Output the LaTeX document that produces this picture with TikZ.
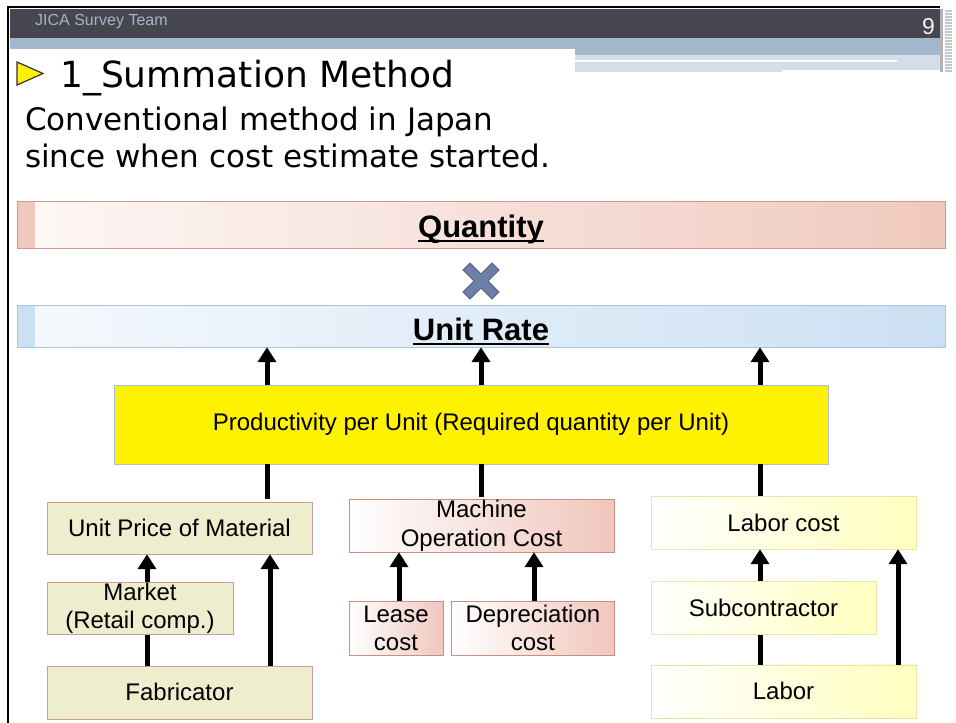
\documentclass[tikz,border=0pt]{standalone}
\usepackage{fontspec}
\setmainfont{Liberation Sans}
\newfontfamily\slidefont{DejaVu Sans}
\usetikzlibrary{arrows.meta, positioning, calc}
\definecolor{headdark}{HTML}{46464F}
\definecolor{headtext}{HTML}{A3B3CA}
\definecolor{bandblue}{HTML}{A3B8CD}
\definecolor{bandlight}{HTML}{D3DEE8}
\definecolor{qtyleft}{HTML}{FDF8F6}
\definecolor{qtyright}{HTML}{F0C9BE}
\definecolor{qtyline}{HTML}{D49A88}
\definecolor{rateleft}{HTML}{F5F9FD}
\definecolor{rateright}{HTML}{CCE0F3}
\definecolor{rateline}{HTML}{A9C5E0}
\definecolor{timesfill}{HTML}{6E7FA6}
\definecolor{timesline}{HTML}{505F86}
\definecolor{prodline}{HTML}{A9C1D9}
\definecolor{matfill}{HTML}{EEEECE}
\definecolor{matline}{HTML}{C9A096}
\definecolor{machfill}{HTML}{F0C6BC}
\definecolor{machline}{HTML}{C8907F}
\definecolor{laborfill}{HTML}{FFFFBF}
\definecolor{laborline}{HTML}{E6E6A8}
\tikzset{
    box/.style={rectangle, draw, minimum height=53pt, inner sep=0pt, text centered, align=center, font=\fontsize{24}{28}\selectfont},
    matbox/.style={box, fill=matfill, draw=matline},
    machbox/.style={box, left color=white, right color=machfill, draw=machline},
    laborbox/.style={box, left color=white, right color=laborfill, draw=laborline},
    bar/.style={rectangle, draw, minimum width=928pt, inner sep=0pt},
    bartext/.style={anchor=base, inner sep=0pt, font=\bfseries\fontsize{31}{34}\selectfont},
    uparrow/.style={line width=5pt, -{Triangle[width=18pt,length=15pt]}},
    link/.style={line width=5pt}
}

\begin{document}
\begin{tikzpicture}[x=1pt, y=-1pt]
    \useasboundingbox (0,0) rectangle (956,723);
    \fill[white] (0,0) rectangle (956,723);

    % slide header
    \fill[headdark] (10,9) rectangle (940,38);
    \fill[bandblue] (10,38) rectangle (940,49);
    \fill[bandblue] (575,49) rectangle (940,55);
    \fill[bandlight] (575,55) rectangle (940,72);
    \fill[white] (575,60) rectangle (897,62);
    \fill[white] (782,70) rectangle (940,73);
    \fill[gray!60] (940,9) rectangle (943,72);
    \foreach \yy in {10,13,...,70}
        \fill[gray!45] (945,\yy) rectangle (952,\yy+1.5);
    \draw[line width=2.5pt] (8,723) -- (8,7) -- (940,7);
    \node (team) [anchor=west, inner sep=0pt, text=headtext, font=\fontsize{16}{18}\selectfont] at (35,22) {JICA Survey Team};
    \node (page) [anchor=east, inner sep=0pt, text=white!90!gray, font=\fontsize{23}{25}\selectfont] at (935,27) {9};

    % title
    \filldraw[fill=yellow, draw=black!80, line width=1.2pt] (17,62) -- (43,73.5) -- (17,85) -- cycle;
    \node (title) [anchor=base west, inner sep=0pt, font=\slidefont\fontsize{36}{40}\selectfont] at (60,87) {1\_Summation Method};
    \node (sub1) [anchor=base west, inner sep=0pt, font=\slidefont\fontsize{31}{36}\selectfont] at (25,130) {Conventional method in Japan};
    \node (sub2) [anchor=base west, inner sep=0pt, font=\slidefont\fontsize{31}{36}\selectfont] at (25,167) {since when cost estimate started.};

    % quantity x unit rate
    \node (qty) [bar, left color=qtyleft, right color=qtyright, draw=qtyline, minimum height=47pt] at (481,224.5) {};
    \fill[qtyright] (qty.north west) rectangle ([xshift=18pt]qty.south west);
    \draw[qtyline] (qty.north west) rectangle (qty.south east);
    \node (qtytext) [bartext] at (481,237) {Quantity};
    \draw[line width=2.2pt] ([yshift=-4pt]qtytext.base west) -- ([yshift=-4pt]qtytext.base east);

    \coordinate (times) at (481,281);
    \filldraw[shift={(times)}, fill=timesfill, draw=timesline, line width=1pt]
        (0,-7) -- (11,-18) -- (18,-11) -- (7,0) -- (18,11) -- (11,18) -- (0,7)
        -- (-11,18) -- (-18,11) -- (-7,0) -- (-18,-11) -- (-11,-18) -- cycle;

    \node (rate) [bar, left color=rateleft, right color=rateright, draw=rateline, minimum height=42pt] at (481,326) {};
    \fill[rateright] (rate.north west) rectangle ([xshift=18pt]rate.south west);
    \draw[rateline] (rate.north west) rectangle (rate.south east);
    \node (ratetext) [bartext] at (481,340) {Unit Rate};
    \draw[line width=2.2pt] ([yshift=-4pt]ratetext.base west) -- ([yshift=-4pt]ratetext.base east);

    % productivity
    \node (prod) [rectangle, draw=prodline, fill=yellow, minimum width=714pt, minimum height=79pt, font=\fontsize{24}{28}\selectfont] at (471,424.5) {Productivity per Unit (Required quantity per Unit)};

    % cost items
    \node (upm) [matbox, minimum width=265pt, minimum height=52pt] at (179.5,528) {Unit Price of Material};
    \node (market) [matbox, minimum width=186pt, minimum height=52pt, below=28pt of upm.south west, anchor=north west] {Market\\(Retail comp.)};
    \node (fab) [matbox, minimum width=265pt, below=31pt of market.south west, anchor=north west] {Fabricator};

    \node (mach) [machbox, minimum width=265pt] at (481.5,525.5) {Machine\\[1pt]Operation Cost};
    \node (lease) [machbox, minimum width=94pt, minimum height=54pt, below=49pt of mach.south west, anchor=north west] {Lease\\cost};
    \node (depr) [machbox, minimum width=163pt, minimum height=54pt, right=8pt of lease.north east, anchor=north west] {Depreciation\\cost};

    \node (labc) [laborbox, minimum width=265pt] at (783.5,522.5) {Labor cost};
    \node (sub) [laborbox, minimum width=225pt, below=32pt of labc.south west, anchor=north west] {Subcontractor};
    \node (labor) [laborbox, minimum width=265pt, below=30pt of sub.south west, anchor=north west] {Labor};

    % connectors
    \coordinate (colmat) at (267,0);
    \coordinate (colmach) at (481,0);
    \coordinate (collab) at (760,0);
    \coordinate (colfab) at (270,0);
    \coordinate (colmarket) at (147,0);
    \coordinate (colsub) at (760,0);
    \coordinate (colright) at (898,0);
    \coordinate (collease) at (399,0);
    \coordinate (coldepr) at (534,0);

    \foreach \col in {colmat, colmach, collab} {
        \draw[uparrow] (prod.north -| \col) -- (rate.south -| \col);
    }
    \draw[link, shorten >=3pt] (prod.south -| colmat) -- (upm.north -| colmat);
    \draw[link, shorten >=2pt] (prod.south -| colmach) -- (mach.north -| colmach);
    \draw[link] (prod.south -| collab) -- (labc.north -| collab);

    \draw[link] (fab.north -| colmarket) -- (market.south -| colmarket);
    \draw[uparrow] (market.north -| colmarket) -- (upm.south -| colmarket);
    \draw[uparrow] (fab.north -| colfab) -- (upm.south -| colfab);

    \draw[uparrow] (lease.north -| collease) -- (mach.south -| collease);
    \draw[uparrow] (depr.north -| coldepr) -- (mach.south -| coldepr);

    \draw[link] (labor.north -| colsub) -- (sub.south -| colsub);
    \draw[uparrow] (sub.north -| colsub) -- (labc.south -| colsub);
    \draw[uparrow] (labor.north -| colright) -- (labc.south -| colright);
\end{tikzpicture}
\end{document}
